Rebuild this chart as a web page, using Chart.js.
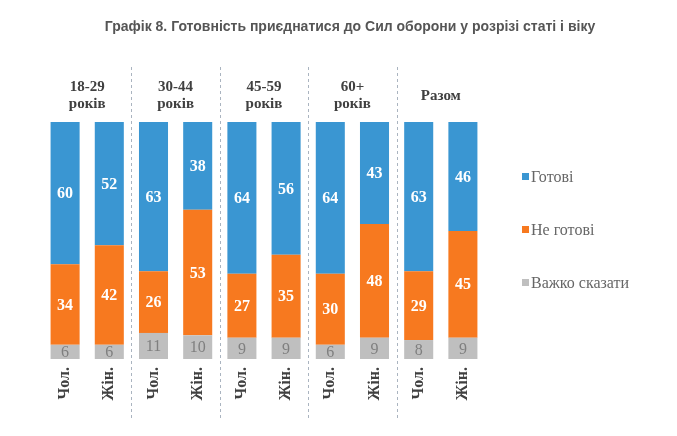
<!DOCTYPE html>
<html>
<head>
<meta charset="utf-8">
<script src="https://cdn.jsdelivr.net/npm/chart.js@4.4.1/dist/chart.umd.min.js"></script>
<style>
  html, body { margin: 0; padding: 0; background: #ffffff; }
  #wrap { width: 677px; height: 436px; }
</style>
</head>
<body>
<div id="wrap"><canvas id="c" width="677" height="436"></canvas></div>
<script>
const titleText = 'Графік 8. Готовність приєднатися до Сил оборони у розрізі статі і віку';
const categories = ['Чол.', 'Жін.', 'Чол.', 'Жін.', 'Чол.', 'Жін.', 'Чол.', 'Жін.', 'Чол.', 'Жін.'];
const groupLabels = [['18-29', 'років'], ['30-44', 'років'], ['45-59', 'років'], ['60+', 'років'], ['Разом']];
const ready = [60, 52, 63, 38, 64, 56, 64, 43, 63, 46];
const notReady = [34, 42, 26, 53, 27, 35, 30, 48, 29, 45];
const hard = [6, 6, 11, 10, 9, 9, 6, 9, 8, 9];
const seriesNames = ['Готові', 'Не готові', 'Важко сказати'];

const BLUE = '#3a96d2', ORANGE = '#f7791f', GRAY = '#bfbfbf';

const overlay = {
  id: 'overlay',
  afterDatasetsDraw(chart) {
    const ctx = chart.ctx;
    const xs = chart.scales.x;
    const area = chart.chartArea;
    ctx.save();
    // title
    ctx.fillStyle = '#555555';
    ctx.font = 'bold 14px "Liberation Sans", Arial, sans-serif';
    ctx.textAlign = 'center';
    ctx.textBaseline = 'middle';
    ctx.fillText(titleText, 350, 27);

    // data labels
    chart.data.datasets.forEach((ds, di) => {
      const meta = chart.getDatasetMeta(di);
      meta.data.forEach((el, i) => {
        const v = ds.data[i];
        const top = Math.max(el.y, area.top);
        const cy = (top + el.base) / 2;
        if (ds.isGray) {
          ctx.fillStyle = '#7f7f7f';
          ctx.font = '16px "Liberation Serif", "Times New Roman", serif';
        } else {
          ctx.fillStyle = '#ffffff';
          ctx.font = 'bold 16px "Liberation Serif", "Times New Roman", serif';
        }
        ctx.fillText(String(v), el.x, cy + 1);
      });
    });

    // group labels
    ctx.fillStyle = '#404040';
    ctx.font = 'bold 15px "Liberation Serif", "Times New Roman", serif';
    groupLabels.forEach((lines, g) => {
      const cx = (xs.getPixelForValue(2 * g) + xs.getPixelForValue(2 * g + 1)) / 2;
      if (lines.length === 1) {
        ctx.fillText(lines[0], cx, 96);
      } else {
        ctx.fillText(lines[0], cx, 87);
        ctx.fillText(lines[1], cx, 104);
      }
    });

    // separators
    ctx.strokeStyle = '#aab4c0';
    ctx.lineWidth = 1;
    ctx.setLineDash([3, 3]);
    for (let g = 0; g < groupLabels.length - 1; g++) {
      const sx = Math.round(xs.getPixelForValue(2 * g + 1.5)) + 0.5;
      ctx.beginPath();
      ctx.moveTo(sx, 67);
      ctx.lineTo(sx, 420);
      ctx.stroke();
    }
    ctx.setLineDash([]);

    // legend
    const legendColors = [BLUE, ORANGE, GRAY];
    const legendY = [177, 230, 283];
    ctx.textAlign = 'left';
    ctx.font = '16px "Liberation Serif", "Times New Roman", serif';
    seriesNames.forEach((name, k) => {
      ctx.fillStyle = legendColors[k];
      ctx.fillRect(522, legendY[k] - 4, 7, 7);
      ctx.fillStyle = '#666666';
      ctx.fillText(name, 531, legendY[k] + 1);
    });
    ctx.restore();
  }
};

new Chart(document.getElementById('c'), {
  type: 'bar',
  data: {
    labels: categories,
    datasets: [
      { label: seriesNames[2], data: hard, backgroundColor: GRAY, isGray: true },
      { label: seriesNames[1], data: notReady, backgroundColor: ORANGE },
      { label: seriesNames[0], data: ready, backgroundColor: BLUE }
    ]
  },
  options: {
    responsive: false,
    animation: false,
    devicePixelRatio: 1,
    layout: { padding: { left: 43, right: 192, top: 122, bottom: 0 } },
    datasets: { bar: { categoryPercentage: 1, barPercentage: 0.657 } },
    plugins: { legend: { display: false }, title: { display: false }, tooltip: { enabled: false } },
    scales: {
      x: {
        stacked: true,
        grid: { display: false, drawTicks: false },
        border: { display: false },
        ticks: {
          minRotation: 90, maxRotation: 90, padding: 8,
          color: '#404040',
          font: { family: '"Liberation Serif", "Times New Roman", serif', size: 16, weight: 'bold' }
        },
        afterFit(s) { s.height = 77; }
      },
      y: {
        stacked: true, min: 0, max: 100, display: false
      }
    }
  },
  plugins: [overlay]
});
</script>
</body>
</html>
